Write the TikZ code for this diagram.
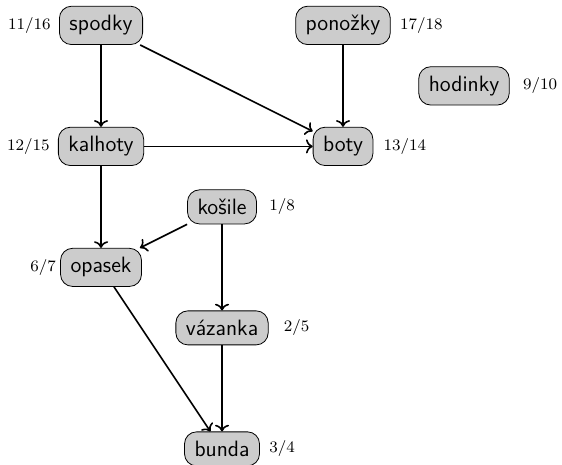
\documentclass[tikz,border=0pt]{standalone}
\usepackage{tikz}
\usetikzlibrary{positioning, arrows, arrows.meta}

\tikzset{
  vec/.style={draw, fill=black!20, rounded corners=6pt, inner xsep=5pt,
    inner ysep=4.6pt, font=\sffamily\fontsize{11.1}{13}\selectfont},
  cas/.style={inner sep=0pt, font=\fontsize{8.4}{10}\selectfont},
}

\begin{document}
\begin{tikzpicture}[x=60.5pt, y=30.25pt]
\useasboundingbox (-0.835,-0.264) rectangle (3.81,7.42);
% vrcholy
\node[vec] (spodky) at (0,7) {spodky};
\node[vec] (ponozky) at (2,7) {ponožky};
\node[vec] (hodinky) at (3,6) {hodinky};
\node[vec] (kalhoty) at (0,5) {kalhoty};
\node[vec] (boty) at (2,5) {boty};
\node[vec] (kosile) at (1,4) {košile};
\node[vec] (opasek) at (0,3) {opasek};
\node[vec] (vazanka) at (1,2) {vázanka};
\node[vec] (bunda) at (1,0) {bunda};

% casy objeveni/dokonceni
\node[cas, left=4pt of spodky] (tspodky) {$11/16$};
\node[cas, right=4.5pt of ponozky] (tponozky) {$17/18$};
\node[cas, right=6.5pt of hodinky] (thodinky) {$9/10$};
\node[cas, left=4pt of kalhoty] (tkalhoty) {$12/15$};
\node[cas, right=5pt of boty] (tboty) {$13/14$};
\node[cas, right=6pt of kosile] (tkosile) {$1/8$};
\node[cas, left=2pt of opasek] (topasek) {$6/7$};
\node[cas, right=7.5pt of vazanka] (tvazanka) {$2/5$};
\node[cas, right=4.5pt of bunda] (tbunda) {$3/4$};

% hrany
\foreach \a/\b in {spodky/kalhoty, spodky/boty, ponozky/boty, kalhoty/boty,
  kalhoty/opasek, kosile/opasek, kosile/vazanka, opasek/bunda, vazanka/bunda}
  \draw[->, thick] (\a) -- (\b);
\end{tikzpicture}
\end{document}
